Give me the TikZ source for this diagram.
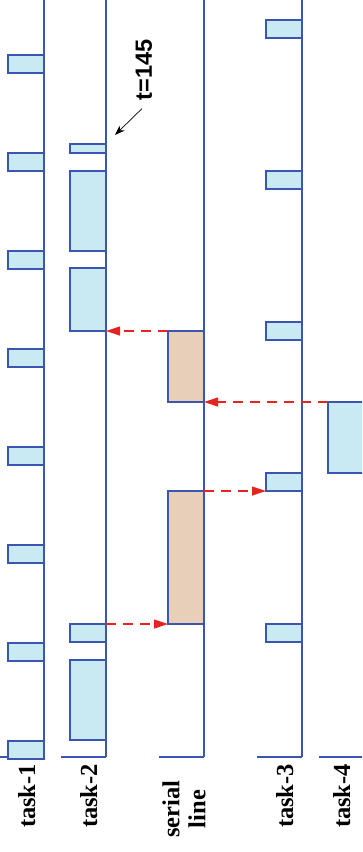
\documentclass[tikz,border=0pt]{standalone}
\usepackage{fontspec}
\setmainfont{Liberation Serif}
\newfontfamily\labelsans{Liberation Sans}
\usetikzlibrary{arrows.meta}
\definecolor{axisblue}{HTML}{3A56B0}
\definecolor{taskfill}{HTML}{C9E9F3}
\definecolor{serialfill}{HTML}{E8CFB9}
\definecolor{msgred}{HTML}{E52421}
\begin{document}
\begin{tikzpicture}[x=1pt,y=-1pt,
  axis/.style={draw=axisblue,line width=1.2pt},
  taskbox/.style={draw=axisblue,fill=taskfill,line width=1.2pt},
  linebox/.style={draw=axisblue,fill=serialfill,line width=1.2pt},
  msg/.style={draw=msgred,line width=1.2pt,dash pattern=on 10pt off 7pt,
    -{Triangle[length=14pt,width=9pt]}},
  lbl/.style={font=\bfseries\fontsize{24.5}{26}\selectfont,rotate=90,anchor=base,inner sep=0pt},
  note/.style={font=\labelsans\bfseries\fontsize{23.5}{26}\selectfont,rotate=90,inner sep=0pt}]
\useasboundingbox (0,0) rectangle (362,852);
\begin{scope}
\clip (0,0) rectangle (362,852);
% axes
\foreach \ax/\bl in {44/0,106/61,204/159,302/257,364/319}{
  \draw[axis] (\ax,0) -- (\ax,757);
  \draw[axis] (\bl,757) -- (\ax,757);
}
% task-1
\foreach \k in {0,...,7}{
  \draw[taskbox] (8,55+98*\k) rectangle (44,73+98*\k);
}
% task-2
\draw[taskbox] (70,144) rectangle (106,153);
\draw[taskbox] (70,171) rectangle (106,251);
\draw[taskbox] (70,268) rectangle (106,331);
\draw[taskbox] (70,624) rectangle (106,642);
\draw[taskbox] (70,660) rectangle (106,740);
% serial line
\draw[linebox] (168,331) rectangle (204,402);
\draw[linebox] (168,491) rectangle (204,624);
% task-3
\foreach \k in {0,...,4}{
  \draw[taskbox] (266,20+151*\k) rectangle (302,38+151*\k);
}
% task-4
\draw[taskbox] (328,402) rectangle (364,473);
\end{scope}
% message coordinates
\coordinate (m1s) at (106,624);
\coordinate (m1e) at (168,624);
\coordinate (m2s) at (204,491);
\coordinate (m2e) at (266,491);
\coordinate (m3s) at (328,402);
\coordinate (m3e) at (204,402);
\coordinate (m4s) at (168,331);
\coordinate (m4e) at (106,331);
\draw[msg] (m1s) -- (m1e);
\draw[msg] (m2s) -- (m2e);
\draw[msg] (m3s) -- (m3e);
\draw[msg] (m4s) -- (m4e);
% t=145 note
\node[note] (tnote) at (144,70) {t=145};
\coordinate (tpt) at (115,135);
\draw[line width=0.7pt,-{Stealth[length=10pt,width=7pt]}] ([xshift=-2pt,yshift=-8pt]tnote.west) -- (tpt);
% labels
\node[lbl] (l1) at (35,796) {task-1};
\node[lbl] (l2) at (97,796) {task-2};
\node[lbl,align=center,anchor=center] (ls) at (184,809) {serial\\line};
\node[lbl] (l3) at (293,796) {task-3};
\node[lbl] (l4) at (350,796) {task-4};
\end{tikzpicture}
\end{document}
